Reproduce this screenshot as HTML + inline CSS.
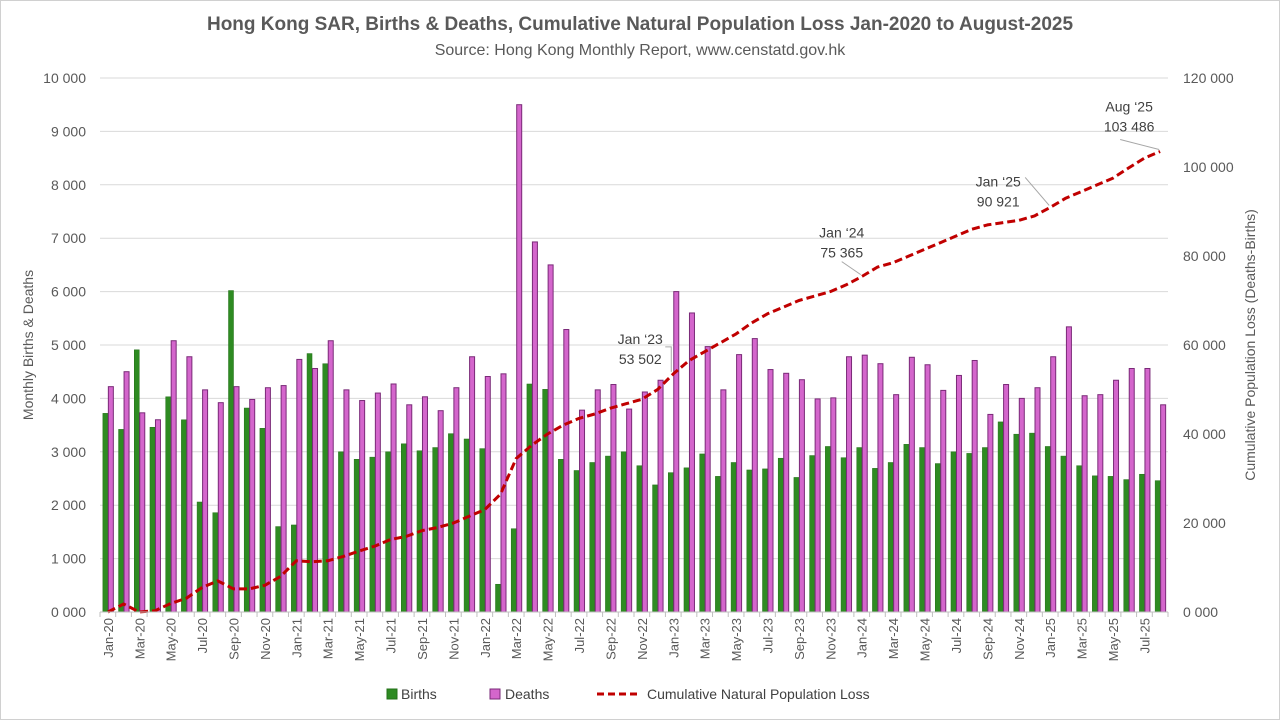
<!DOCTYPE html>
<html><head><meta charset="utf-8"><style>
body{margin:0;background:#fff;}
svg{display:block;font-family:"Liberation Sans",Arial,sans-serif;}
</style></head><body>
<svg id="c" width="1280" height="720">
<rect x="0.5" y="0.5" width="1279" height="719" fill="#fff" stroke="#d0d0d0"/>
<text x="640" y="30" text-anchor="middle" font-size="19" font-weight="bold" fill="#595959">Hong Kong SAR, Births &amp; Deaths, Cumulative Natural Population Loss Jan-2020 to August-2025</text>
<text x="640" y="55" text-anchor="middle" font-size="16" fill="#595959">Source: Hong Kong Monthly Report, www.censtatd.gov.hk</text>
<text transform="translate(33,345) rotate(-90)" text-anchor="middle" font-size="14" fill="#595959">Monthly Births &amp; Deaths</text>
<text transform="translate(1255,345) rotate(-90)" text-anchor="middle" font-size="14" fill="#595959">Cumulative Population Loss (Deaths-Births)</text>
<g id="grid"></g><g id="bars"></g><g id="line"></g><g id="ann"></g><g id="axes"></g>
<g>
<rect x="387" y="689" width="10" height="10" fill="#2e8b22" stroke="#237018"/>
<text x="401" y="699" font-size="14" fill="#404040">Births</text>
<rect x="490" y="689" width="10" height="10" fill="#d466cc" stroke="#7a2a78"/>
<text x="505" y="699" font-size="14" fill="#404040">Deaths</text>
<line x1="597" y1="694" x2="641" y2="694" stroke="#c00000" stroke-width="3" stroke-dasharray="7,4"/>
<text x="647" y="699" font-size="14" fill="#404040">Cumulative Natural Population Loss</text>
</g>
</svg>
<script>
const months=["Jan","Feb","Mar","Apr","May","Jun","Jul","Aug","Sep","Oct","Nov","Dec"];
const births=[3720,3420,4910,3460,4030,3600,2060,1860,6020,3820,3440,1600,
1630,4840,4650,3000,2860,2900,3000,3150,3020,3080,3340,3240,
3060,520,1560,4270,4170,2860,2650,2800,2920,3000,2740,2380,
2610,2700,2960,2540,2800,2660,2680,2880,2520,2930,3100,2890,
3080,2690,2800,3140,3080,2780,3000,2970,3080,3560,3330,3350,
3100,2920,2740,2550,2540,2480,2580,2460];
const deaths=[4220,4500,3730,3600,5080,4780,4160,3920,4220,3980,4200,4240,
4730,4560,5080,4160,3960,4100,4270,3880,4030,3770,4200,4780,
4410,4460,9500,6930,6500,5290,3780,4160,4260,3800,4120,4340,
6000,5600,4970,4160,4820,5120,4540,4470,4350,3990,4010,4780,
4810,4650,4070,4770,4630,4150,4430,4710,3700,4260,4000,4200,
4780,5340,4050,4070,4340,4560,4560,3880];
const cumulative=[0,1800,0,300,1900,3100,5500,7000,5200,5200,6000,8000,
11500,11300,11500,12500,13700,14800,16300,17000,18300,19000,20000,21500,
23000,26500,34500,37500,40000,42000,43500,44500,45800,46800,47800,50000,
53502,56500,58500,60500,62500,65000,67000,68500,70000,71000,72000,73500,
75365,77500,78500,80000,81500,83000,84500,86000,87000,87500,88000,89000,
90921,93000,94500,96000,97500,99800,102000,103486];
const leftTicks=[0,1000,2000,3000,4000,5000,6000,7000,8000,9000,10000];
const rightTicks=[0,20000,40000,60000,80000,100000,120000];
const annMonths=[36,48,60,67];
const annLabels=["Jan \u201823","Jan \u201824","Jan \u201825","Aug \u201825"];

const NS="http://www.w3.org/2000/svg";
const X0=100,X1=1168,Y0=612,Y1=78,N=births.length;
const bw=(X1-X0)/N;
const yL=v=>Y0-(v/10000)*(Y0-Y1);
const yR=v=>Y0-(v/120000)*(Y0-Y1);
const xc=i=>X0+bw*(i+0.5);
const fmt=v=>String(v).replace(/\B(?=(\d{3})+(?!\d))/g," ");
function mk(tag,attrs,parent,text){const e=document.createElementNS(NS,tag);for(const k in attrs)e.setAttribute(k,attrs[k]);if(text!==undefined)e.textContent=text;document.getElementById(parent).appendChild(e);return e;}

leftTicks.forEach(v=>{
  const g=mk("line",{x1:X0,x2:X1,y1:yL(v),y2:yL(v),stroke:"#d9d9d9","stroke-width":1},"grid");
  
  
  const t=mk("text",{x:86,y:yL(v)+5,"text-anchor":"end","font-size":14,fill:"#595959"},"axes",(v===0?"0 000":fmt(v)));
  
  
});
rightTicks.forEach(v=>{
  const t=mk("text",{x:1183,y:yR(v)+5,"font-size":14,fill:"#595959"},"axes",(v===0?"0 000":fmt(v)));
  
  
});
mk("line",{x1:X0,x2:X1,y1:Y0,y2:Y0,stroke:"#bfbfbf"},"axes");
for(let i=0;i<N;i++){
  const x=xc(i);
  const b=mk("rect",{x:x-5,y:yL(births[i]),width:5,height:Y0-yL(births[i]),fill:"#2e8b22",stroke:"#237018","stroke-width":0.5},"bars");
  
  
  const d=mk("rect",{x:x+0.5,y:yL(deaths[i]),width:5,height:Y0-yL(deaths[i]),fill:"#d466cc",stroke:"#7a2a78","stroke-width":1},"bars");
  
  
  mk("line",{x1:X0+bw*i,x2:X0+bw*i,y1:Y0,y2:Y0+5,stroke:"#bfbfbf"},"axes");
  if(i%2===0){
    const yr=String(20+Math.floor(i/12));
    const t=mk("text",{transform:`translate(${x+5},${Y0+6}) rotate(-90)`,"text-anchor":"end","font-size":13,fill:"#595959"},"axes",months[i%12]+"-"+yr);
    
    
  }
}
mk("line",{x1:X1,x2:X1,y1:Y0,y2:Y0+5,stroke:"#bfbfbf"},"axes");
let d="";
cumulative.forEach((v,i)=>{d+=(i?"L":"M")+xc(i).toFixed(1)+","+yR(v).toFixed(1);});
const p=mk("path",{d:d,fill:"none",stroke:"#c00000","stroke-width":3,"stroke-dasharray":"8,4","stroke-linejoin":"round"},"line");


const txtOff=[[-33,-10],[-20,-19],[-52,-1],[-31,-20]];
const leadOff=[[-12,-28],[-20,-15],[-25,-30],[-40,-12]];
annMonths.forEach((m,k)=>{
  const x=xc(m),y=yR(cumulative[m]);
  const tx=x+txtOff[k][0],ty=y+txtOff[k][1];
  let l;
  if(k===0){
    l=mk("polyline",{points:`${tx+25},${ty-17} ${x-2},${ty-17} ${x-2},${y-2}`,fill:"none",stroke:"#a6a6a6","stroke-width":1},"ann");
  } else {
    l=mk("line",{x1:x+leadOff[k][0],y1:y+leadOff[k][1],x2:x-1,y2:y-2,stroke:"#a6a6a6","stroke-width":1},"ann");
  }
  
  
  const t1=mk("text",{x:tx,y:ty-20,"text-anchor":"middle","font-size":14,fill:"#404040"},"ann",annLabels[k]);
  
  
  const t2=mk("text",{x:tx,y:ty,"text-anchor":"middle","font-size":14,fill:"#404040"},"ann",fmt(cumulative[m]));
  
  
});
</script>
</body></html>
